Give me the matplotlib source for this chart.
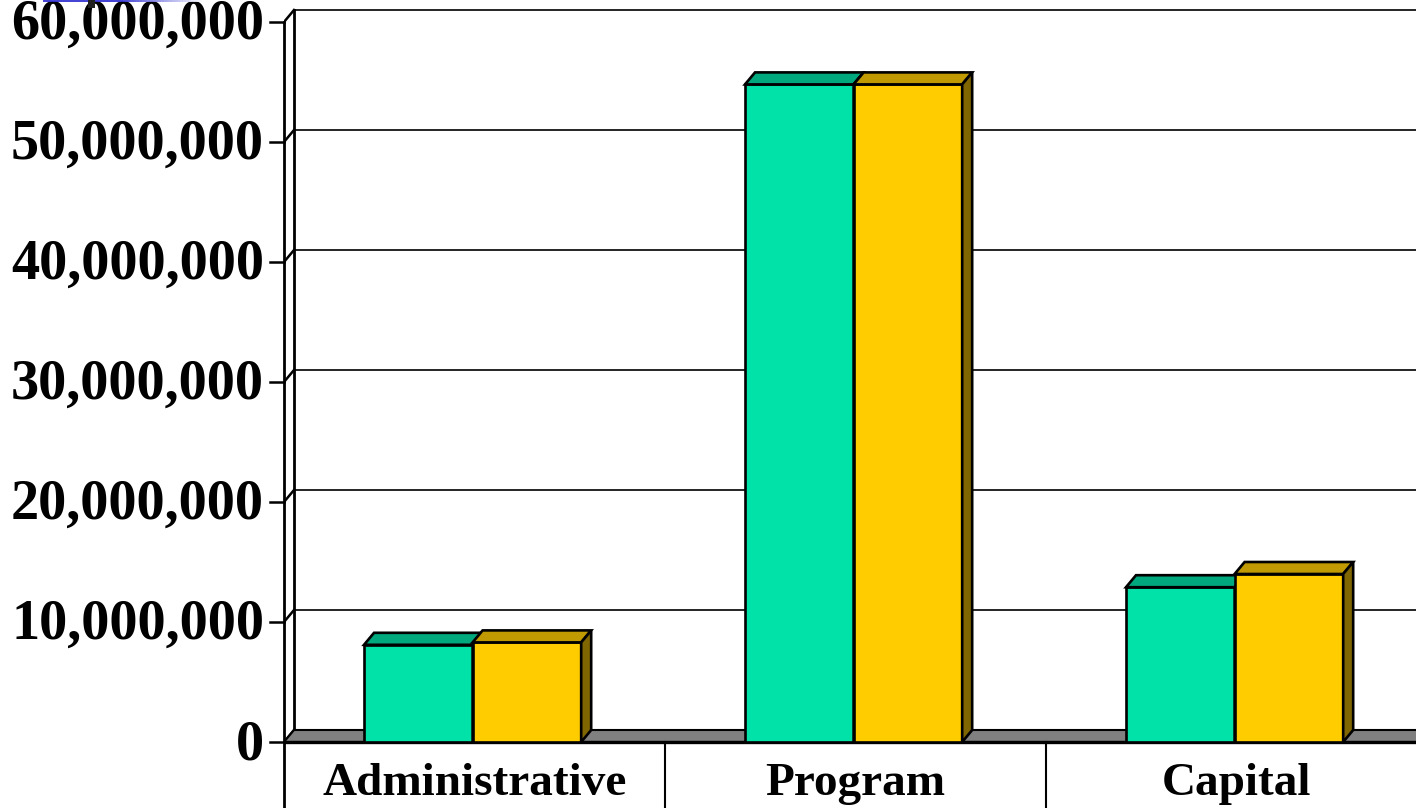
import matplotlib
matplotlib.use("Agg")
import matplotlib.pyplot as plt
from matplotlib.patches import Polygon, Rectangle
from matplotlib.collections import LineCollection
import numpy as np

categories = ["Administrative", "Program", "Capital"]
series_a = [8.1e6, 54.8e6, 12.9e6]   # green
series_b = [8.3e6, 54.8e6, 14.0e6]   # yellow
yticks = [0, 10e6, 20e6, 30e6, 40e6, 50e6, 60e6]
ytick_labels = ["0", "10,000,000", "20,000,000", "30,000,000",
                "40,000,000", "50,000,000", "60,000,000"]

GREEN = "#00E2A8"
GREEN_TOP = "#00A87E"
YELLOW = "#FFCC00"
YELLOW_TOP = "#C09A00"
YELLOW_SIDE = "#7F6600"
FLOOR = "#808080"

plt.rcParams["font.family"] = ["Liberation Serif", "DejaVu Serif"]

W, H = 1416, 808
fig = plt.figure(figsize=(W / 100, H / 100), dpi=100)
left_px = 284
cat_px = 381.0
px_per_val = 12 / 1e6
ax = fig.add_axes([left_px / W, 0, (W - left_px) / W, 1])
ax.set_xlim(-0.5, -0.5 + (W - left_px) / cat_px)
ax.set_ylim(-(H - 742) / px_per_val, 742 / px_per_val)
for s in ax.spines.values():
    s.set_visible(False)
ax.set_xticks([])
ax.set_yticks([])

dx = 10 / cat_px          # depth offset in x (category units)
dy = 12 / px_per_val      # depth offset in y (value units)
xr = ax.get_xlim()[1] + 0.1
x0 = -0.5

# back wall gridlines + left wall diagonals
for v, lab in zip(yticks, ytick_labels):
    ax.plot([x0 + dx, xr], [v + dy, v + dy], color="black", lw=1.2, zorder=1, clip_on=False)
    ax.plot([x0, x0 + dx], [v, v + dy], color="black", lw=1.8, zorder=1)
    ax.plot([x0 - 14 / cat_px, x0], [v, v], color="black", lw=1.8, zorder=1, clip_on=False)
    ax.text(x0 - 20 / cat_px, v - 0.25e6, lab, ha="right", va="center",
            fontsize=40.5, fontweight="bold", clip_on=False)

# left walls
ax.plot([x0 + dx, x0 + dx], [dy, yticks[-1] + dy], color="black", lw=2.0, zorder=1)
ax.plot([x0, x0], [ax.get_ylim()[0], yticks[-1]], color="black", lw=2.0, zorder=3, clip_on=False)

# floor
floor = Polygon([[x0, 0], [xr, 0], [xr, dy], [x0 + dx, dy]], closed=True,
                facecolor=FLOOR, edgecolor="black", lw=1.5, zorder=2)
ax.add_patch(floor)
ax.plot([x0, xr], [0, 0], color="black", lw=2.4, zorder=2.5)

# category dividers and labels
for i, name in enumerate(categories):
    ax.plot([i + 0.5, i + 0.5], [ax.get_ylim()[0], 0], color="black", lw=1.5, zorder=3)
    ax.text(i, -3.5e6, name, ha="center", va="center", fontsize=34, fontweight="bold")

# bars
w = 0.285
xs = np.arange(len(categories))


def draw_bar(left, h, front, top, side):
    ax.bar(left, h, width=w, align="edge", color=front, edgecolor="black", lw=1.9, zorder=4)
    ax.add_patch(Polygon([[left, h], [left + w, h], [left + w + dx, h + dy], [left + dx, h + dy]],
                         closed=True, facecolor=top, edgecolor="black", lw=1.9, zorder=4))
    ax.add_patch(Polygon([[left + w, 0], [left + w + dx, dy], [left + w + dx, h + dy], [left + w, h]],
                         closed=True, facecolor=side, edgecolor="black", lw=1.9, zorder=4))


for i in range(len(categories)):
    draw_bar(xs[i] - 0.29, series_a[i], GREEN, GREEN_TOP, "#007F5E")
    draw_bar(xs[i] - 0.005, series_b[i], YELLOW, YELLOW_TOP, YELLOW_SIDE)

# cropped title remnants at the top-left edge
xs_line = np.linspace(43 / W, 205 / W, 60)
segs = [[(xs_line[k], 1 - 0.8 / H), (xs_line[k + 1], 1 - 0.8 / H)] for k in range(len(xs_line) - 1)]
fade = np.clip((np.linspace(43, 205, len(segs)) - 120) / 85, 0, 1)
cols = [(0.19 + 0.81 * t, 0.19 + 0.81 * t, 0.82 + 0.18 * t) for t in fade]
fig.add_artist(LineCollection(segs, colors=cols, linewidths=1.3, transform=fig.transFigure))
fig.add_artist(Rectangle((88 / W, 1 - 8 / H), 7 / W, 8 / H, facecolor="#202020",
                         edgecolor="none", transform=fig.transFigure, zorder=10))

fig.savefig("out.png", dpi=100)
